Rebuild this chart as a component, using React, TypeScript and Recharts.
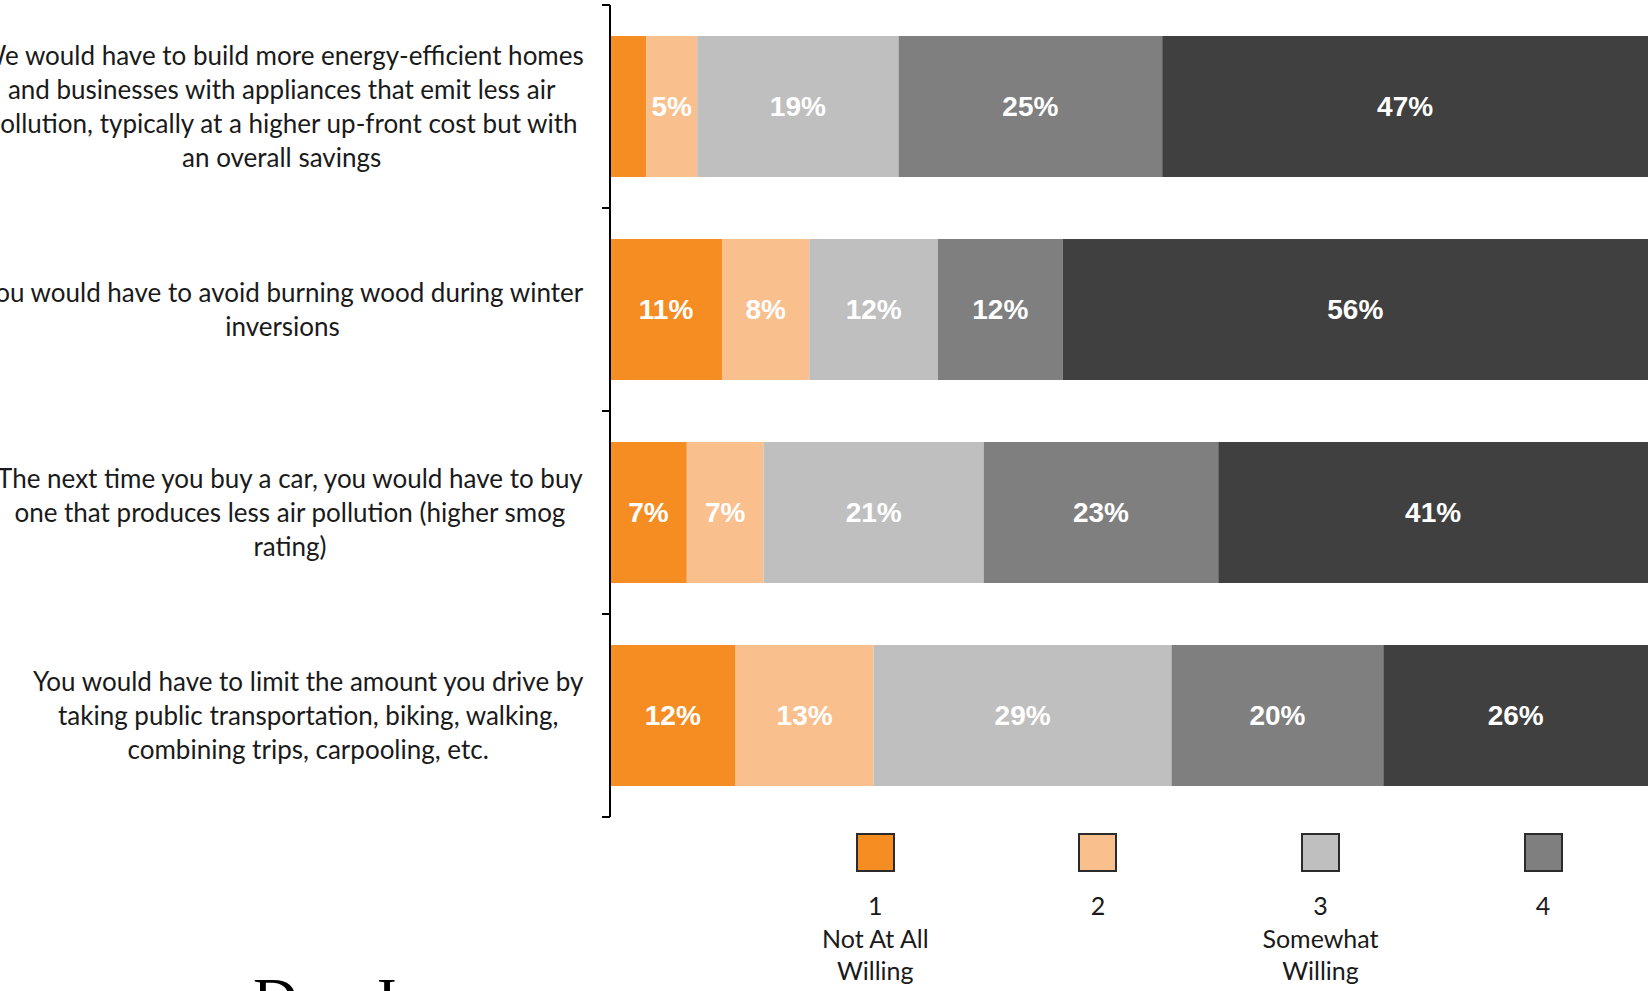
import React from "react";
import { BarChart, Bar, XAxis, YAxis, LabelList } from "recharts";

// survey statements (already wrapped the way the slide wraps them)
const categories = [
  [
    "We would have to build more energy-efficient homes",
    "and businesses with appliances that emit less air",
    "pollution, typically at a higher up-front cost but with",
    "an overall savings",
  ],
  ["You would have to avoid burning wood during winter", "inversions"],
  [
    "The next time you buy a car, you would have to buy",
    "one that produces less air pollution (higher smog",
    "rating)",
  ],
  [
    "You would have to limit the amount you drive by",
    "taking public transportation, biking, walking,",
    "combining trips, carpooling, etc.",
  ],
];

const notAtAll = [3.5, 10.8, 7.4, 12.1];
const two = [4.9, 8.4, 7.4, 13.3];
const somewhat = [19.4, 12.4, 21.2, 28.7];
const four = [25.4, 12.0, 22.6, 20.4];
const very = [46.8, 56.4, 41.4, 25.5];

const seriesKeys = ["s1", "s2", "s3", "s4", "s5"];
const seriesColors = ["#F68D23", "#F9C08E", "#BFBFBF", "#7F7F7F", "#404040"];
// only the first four legend entries fit on the slide
const legendLabels = [["1", "Not At All", "Willing"], ["2"], ["3", "Somewhat", "Willing"], ["4"]];

const W = 1651;
const H = 991;
const MARGIN = { top: 5, right: 3, left: 0, bottom: 174 };
const AXIS_W = 610;
const BAND = (H - MARGIN.top - MARGIN.bottom) / categories.length;
const LABEL_FONT = "Lato, 'Open Sans', sans-serif";
const LABEL_SIZE = 26;
const LINE_H = 34;

const data = categories.map((lines, i) => ({
  name: lines.join(" "),
  lines,
  s1: notAtAll[i],
  s2: two[i],
  s3: somewhat[i],
  s4: four[i],
  s5: very[i],
}));

let ctx: CanvasRenderingContext2D | null = null;
function textWidth(s: string) {
  if (!ctx) ctx = document.createElement("canvas").getContext("2d");
  if (!ctx) return s.length * 12;
  ctx.font = `${LABEL_SIZE}px Lato`;
  return ctx.measureText(s).width;
}

function CategoryTick(props: any) {
  const { x, y, payload, index } = props;
  const row = data.find((d) => d.name === payload.value);
  const lines = row ? row.lines : [String(payload.value)];
  const maxW = Math.max(...lines.map(textWidth));
  const cx = x - maxW / 2;
  const startY = y - ((lines.length - 1) * LINE_H) / 2;
  const axisX = x + 26;
  return (
    <g>
      <line x1={axisX - 8} x2={axisX} y1={y - BAND / 2} y2={y - BAND / 2} stroke="#000" strokeWidth={2} />
      {index === categories.length - 1 && (
        <line x1={axisX - 8} x2={axisX} y1={y + BAND / 2} y2={y + BAND / 2} stroke="#000" strokeWidth={2} />
      )}
      <text textAnchor="middle" fontFamily={LABEL_FONT} fontSize={LABEL_SIZE} fill="#1a1a1a">
        {lines.map((l: string, i: number) => (
          <tspan key={i} x={cx} y={startY + i * LINE_H} dy="0.35em">
            {l}
          </tspan>
        ))}
      </text>
    </g>
  );
}

function ChartLegend() {
  return (
    <div style={{ position: "absolute", left: 764, top: 833, display: "flex" }}>
      {legendLabels.map((lines, i) => (
        <div
          key={i}
          style={{
            width: 222.6,
            display: "flex",
            flexDirection: "column",
            alignItems: "center",
            fontFamily: LABEL_FONT,
            fontSize: 25,
            lineHeight: "32.5px",
            color: "#1a1a1a",
          }}
        >
          <div
            style={{
              width: 35,
              height: 35,
              background: seriesColors[i],
              border: "2px solid #2b2b2b",
              marginBottom: 17,
            }}
          />
          {lines.map((l, j) => (
            <div key={j}>{l}</div>
          ))}
        </div>
      ))}
    </div>
  );
}

const fmt = (v: any) => (Number(v) >= 4.5 ? `${Math.round(Number(v))}%` : "");

export default function App() {
  return (
    <div
      style={{
        position: "fixed",
        left: 0,
        top: 0,
        width: W,
        height: H,
        overflow: "hidden",
        background: "#fff",
      }}
    >
      <BarChart width={W} height={H} data={data} layout="vertical" margin={MARGIN} barCategoryGap={31}>
        <XAxis type="number" domain={[0, 100]} hide />
        <YAxis
          type="category"
          dataKey="name"
          width={AXIS_W}
          axisLine={{ stroke: "#000", strokeWidth: 2 }}
          tickLine={false}
          tickSize={0}
          tickMargin={26}
          tick={<CategoryTick />}
          interval={0}
        />
        {seriesKeys.map((k, i) => (
          <Bar key={k} dataKey={k} stackId="a" fill={seriesColors[i]} isAnimationActive={false}>
            <LabelList
              dataKey={k}
              position="center"
              formatter={fmt}
              fill="#fff"
              fontFamily="'Liberation Sans', Arial, sans-serif"
              fontWeight="bold"
              fontSize={28}
            />
          </Bar>
        ))}
      </BarChart>
      <ChartLegend />
      <div
        style={{
          position: "absolute",
          left: 253,
          top: 968,
          fontFamily: "'Liberation Serif', 'DejaVu Serif', serif",
          fontSize: 62,
          lineHeight: "62px",
          color: "#000",
          whiteSpace: "nowrap",
        }}
      >
        Dan Jones
      </div>
    </div>
  );
}
